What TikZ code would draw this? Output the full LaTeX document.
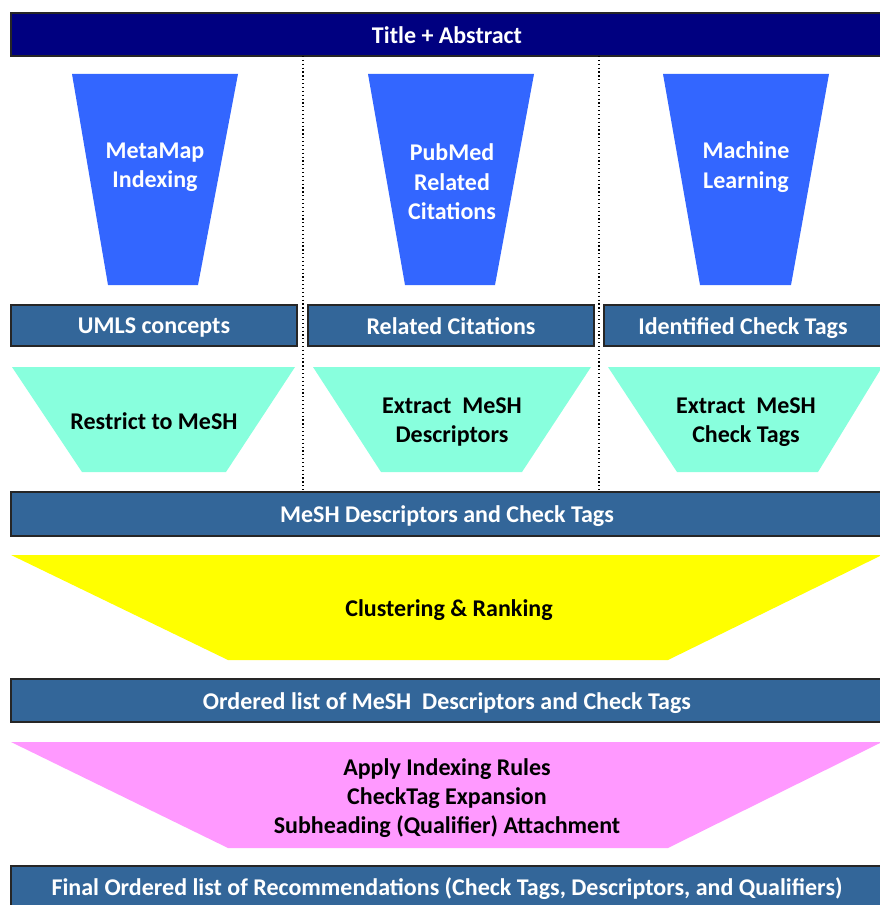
\documentclass[tikz,border=0pt]{standalone}
\usepackage{fontspec}
\setmainfont{Carlito}
\usepackage{tikz}

\definecolor{navybar}{RGB}{0,0,128}
\definecolor{steelbar}{RGB}{51,102,153}
\definecolor{funnelblue}{RGB}{51,102,255}
\definecolor{aquafill}{RGB}{136,255,221}
\definecolor{yellowfill}{RGB}{255,255,0}
\definecolor{pinkfill}{RGB}{255,153,255}

\tikzset{
  bar/.style={draw=black!85, line width=0.9, fill=steelbar},
  lbl/.style={font=\bfseries\fontsize{18}{22}\selectfont, align=center, inner sep=0.75pt},
  whitelbl/.style={lbl, text=white},
}

\begin{document}
\begin{tikzpicture}[x=0.75pt,y=0.75pt,yscale=-1]
\useasboundingbox (0,0) rectangle (880,905);

%Shape: Rectangle [title]
\draw [draw=black!85, line width=0.9, fill=navybar] (11,13) rectangle (882,56);

%Straight Lines [column separators]
\draw [dotted, line width=0.9] (303,56) -- (303,492);
\draw [dotted, line width=0.9] (599,56) -- (599,492);

%Shape: Trapezoid [blue funnels]
\fill [funnelblue] (72,74) -- (238,74) -- (198,285) -- (108,285) -- cycle;
\fill [funnelblue] (368,74) -- (534,74) -- (495,285) -- (405,285) -- cycle;
\fill [funnelblue] (663,74) -- (829,74) -- (791,285) -- (700,285) -- cycle;

%Shape: Rectangle [first row of bars]
\draw [bar] (11,305) rectangle (297,346);
\draw [bar] (308,305) rectangle (594,346);
\draw [bar] (604,305) rectangle (882,346);

%Shape: Trapezoid [aqua filters]
\fill [aquafill] (12,367) -- (295,367) -- (226,472) -- (82,472) -- cycle;
\fill [aquafill] (313,367) -- (591,367) -- (522,472) -- (381,472) -- cycle;
\fill [aquafill] (608,367) -- (882,367) -- (818,472) -- (677,472) -- cycle;

%Shape: Rectangle [merged bar]
\draw [bar] (11,492) rectangle (882,536);

%Shape: Trapezoid [clustering]
\fill [yellowfill] (11,555) -- (882,555) -- (668,660) -- (228,660) -- cycle;

%Shape: Rectangle [ordered bar]
\draw [bar] (11,679) rectangle (882,722);

%Shape: Trapezoid [rules]
\fill [pinkfill] (11,742) -- (882,742) -- (668,848) -- (228,848) -- cycle;

%Shape: Rectangle [final bar]
\draw [bar] (11,866) rectangle (882,910);

% Text Node
\node [whitelbl] (title) at (447,35) {Title + Abstract};
% Text Node
\node [whitelbl] (metamap) at (155,167) {MetaMap\\Indexing};
% Text Node
\node [whitelbl] (pubmed) at (452,182) {PubMed\\Related\\Citations};
% Text Node
\node [whitelbl] (ml) at (746,167) {Machine\\Learning};
% Text Node
\node [whitelbl] (umls) at (154,328) {UMLS concepts};
% Text Node
\node [whitelbl] (related) at (451,326) {Related Citations};
% Text Node
\node [whitelbl] (checktags) at (743,328) {Identified Check Tags};
% Text Node
\node [lbl] (restrict) at (154,421) {Restrict to MeSH};
% Text Node
\node [lbl] (extractdesc) at (452,422) {Extract~ MeSH\\Descriptors};
% Text Node
\node [lbl] (extracttags) at (746,422) {Extract~ MeSH\\Check Tags};
% Text Node
\node [whitelbl] (merged) at (447,516) {MeSH Descriptors and Check Tags};
% Text Node
\node [lbl] (cluster) at (449,610) {Clustering \& Ranking};
% Text Node
\node [whitelbl] (ordered) at (447,703) {Ordered list of MeSH~ Descriptors and Check Tags};
% Text Node
\node [lbl] (rules) at (447,798) {Apply Indexing Rules\\CheckTag Expansion\\Subheading (Qualifier) Attachment};
% Text Node
\node [whitelbl] (final) at (447,889) {Final Ordered list of Recommendations (Check Tags, Descriptors, and Qualifiers)};

\end{tikzpicture}
\end{document}
